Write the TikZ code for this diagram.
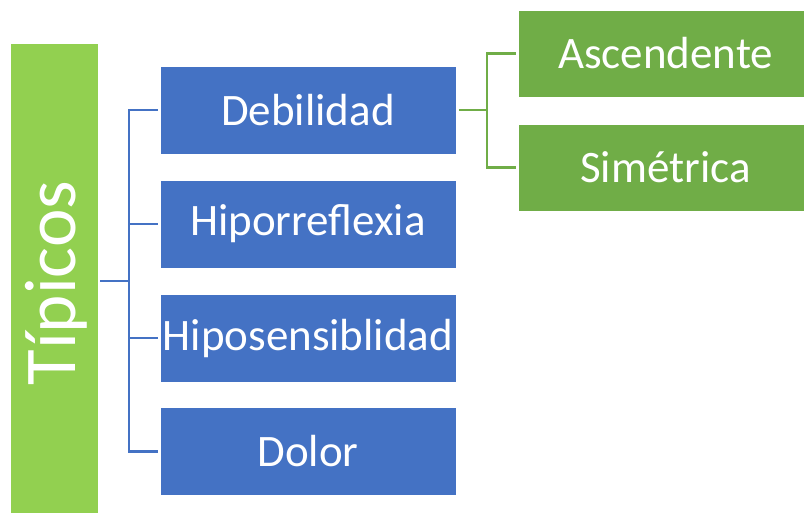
\documentclass[tikz,border=0pt]{standalone}
\usepackage{fontspec}
\setmainfont{Carlito}
\definecolor{cblue}{HTML}{4472C4}
\definecolor{clgreen}{HTML}{92D050}
\definecolor{cgreen}{HTML}{70AD47}
\begin{document}
\begin{tikzpicture}[x=1pt,y=-1pt,
  bluebox/.style={rectangle, fill=cblue, draw=white, line width=0.6pt, inner sep=0pt, outer sep=0pt,
    minimum width=296pt, minimum height=88pt, text=white, font=\fontsize{45}{45}\selectfont},
  greenbox/.style={rectangle, fill=cgreen, draw=white, line width=0.6pt, inner sep=0pt, outer sep=0pt,
    minimum width=295pt, minimum height=87pt, text=white, font=\fontsize{45}{45}\selectfont},
  tipbox/.style={rectangle, fill=clgreen, draw=white, line width=0.6pt, inner sep=0pt, outer sep=0pt,
    minimum width=88pt, minimum height=476pt},
  blueline/.style={draw=cblue, line width=2.5pt},
  greenline/.style={draw=cgreen, line width=2.5pt}]
\useasboundingbox (0,0) rectangle (804,512);
\clip (0,0) rectangle (804,512);
\fill[white] (0,0) rectangle (804,512);
\node[tipbox] (tip) at (54,281) {};
\node[text=white, rotate=90, inner sep=0pt, font=\fontsize{73}{73}\selectfont] (tiptext) at (56,283) {Típicos};
\node[bluebox] (deb) at (308,110) {Debilidad};
\node[bluebox] (hir) at (308,224) {Hiporreflexia};
\node[bluebox] (his) at (308,338) {Hiposensiblidad};
\node[bluebox] (dol) at (308,451.5) {Dolor};
\node[greenbox] (asc) at (665.5,53.5) {Ascendente};
\node[greenbox] (sim) at (665.5,167.5) {Simétrica};
\coordinate (bt) at (129,281);
\coordinate (gt) at (487,110);
\draw[blueline, shorten <=2pt] (tip.east) -- (bt);
\draw[blueline, shorten >=2pt] (bt) |- (deb.west);
\draw[blueline, shorten >=2pt] (bt) |- (hir.west);
\draw[blueline, shorten >=2pt] (bt) |- (his.west);
\draw[blueline, shorten >=2pt] (bt) |- (dol.west);
\draw[greenline, shorten <=3pt] (deb.east) -- (gt);
\draw[greenline, shorten >=2pt] (gt) |- (asc.west);
\draw[greenline, shorten >=2pt] (gt) |- (sim.west);
\end{tikzpicture}
\end{document}
